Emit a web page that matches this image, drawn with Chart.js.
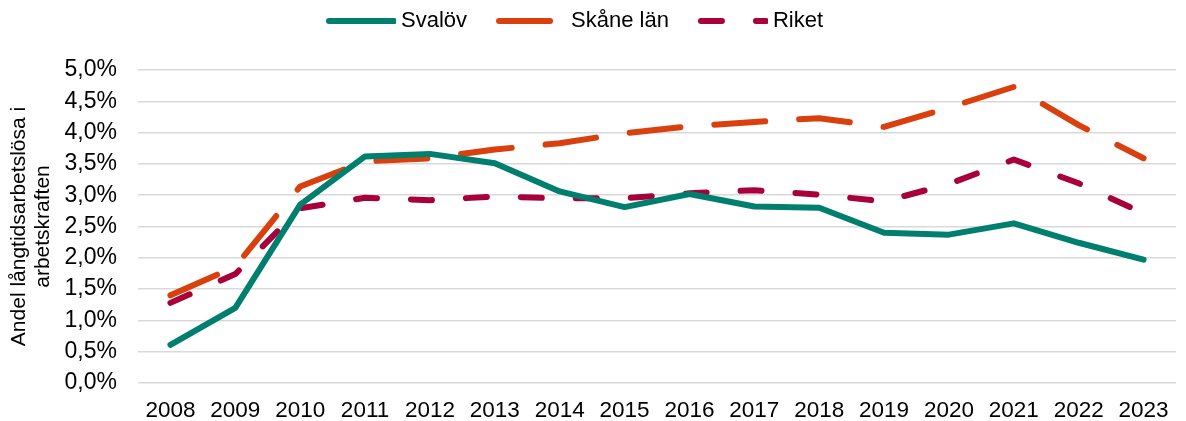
<!DOCTYPE html>
<html>
<head>
<meta charset="utf-8">
<script src="https://cdn.jsdelivr.net/npm/chart.js@4"></script>
<style>
html,body{margin:0;padding:0;background:#fff;}
#wrap{width:1186px;height:421px;position:relative;}
</style>
</head>
<body>
<div id="wrap"><canvas id="c" width="1186" height="421"></canvas></div>
<script>
const years = ["2008","2009","2010","2011","2012","2013","2014","2015","2016","2017","2018","2019","2020","2021","2022","2023"];
const svalov = [0.61, 1.20, 2.85, 3.62, 3.66, 3.51, 3.06, 2.81, 3.02, 2.82, 2.80, 2.40, 2.37, 2.55, 2.24, 1.97];
const skane  = [1.40, 1.86, 3.14, 3.54, 3.59, 3.73, 3.83, 3.99, 4.10, 4.17, 4.23, 4.09, 4.40, 4.73, 4.12, 3.59];
const riket  = [1.28, 1.74, 2.79, 2.96, 2.92, 2.98, 2.95, 2.95, 3.03, 3.08, 3.01, 2.90, 3.18, 3.57, 3.19, 2.71];
const seriesNames = ["Svalöv", "Skåne län", "Riket"];
const yTitle = ["Andel långtidsarbetslösa i", "arbetskraften"];

const FONT = "'Liberation Sans', Arial, sans-serif";
Chart.defaults.font.family = FONT;
Chart.defaults.color = "#000";

const COLORS = ['#007F6E', '#D9400E', '#A8003B'];
const DASHES = [[], [51, 34], [21, 34]];

// legend sample images (line swatch with the series' dash style)
function swatch(color, dash) {
  const c = document.createElement('canvas');
  c.width = 95; c.height = 8;
  const g = c.getContext('2d');
  g.strokeStyle = color; g.lineWidth = 6; g.lineCap = 'round';
  g.setLineDash(dash);
  g.beginPath(); g.moveTo(28, 4); g.lineTo(93, 4); g.stroke();
  return c;
}

const seriesData = [svalov, skane, riket];
const datasets = seriesData.map((d, i) => ({
  label: seriesNames[i], data: d,
  borderColor: COLORS[i], backgroundColor: COLORS[i],
  borderWidth: 6, borderDash: DASHES[i], borderCapStyle: 'round', borderJoinStyle: 'round',
  pointRadius: 0, pointHoverRadius: 0, pointStyle: swatch(COLORS[i], DASHES[i]), tension: 0
}));

new Chart(document.getElementById('c'), {
  type: 'line',
  data: { labels: years, datasets },
  options: {
    responsive: false,
    animation: false,
    events: [],
    layout: { padding: { left: -46, right: 10, top: 0, bottom: 0 } },
    plugins: {
      legend: {
        position: 'top',
        labels: {
          usePointStyle: true,
          pointStyleWidth: 83,
          boxHeight: 22,
          padding: 10,
          font: { size: 22, family: FONT },
          color: '#000'
        }
      },
      title: { display: true, text: '', weight: 500, font: { size: 10 }, padding: { top: 0, bottom: 16 } },
      tooltip: { enabled: false }
    },
    scales: {
      x: {
        offset: true,
        grid: { display: false, drawTicks: false },
        border: { display: false },
        ticks: { font: { size: 22.5, family: FONT }, color: '#000', padding: 14, maxRotation: 0, autoSkip: false },
        afterFit: (s) => { s.height = 38; }
      },
      y: {
        min: 0, max: 5,
        grid: { color: '#d9d9d9', lineWidth: 1.5, drawTicks: false },
        border: { display: false },
        ticks: { stepSize: 0.5, font: { size: 23, family: FONT }, color: '#000', padding: 21,
          callback: (v) => v.toFixed(1).replace('.', ',') + '%' },
        title: { display: true, text: yTitle, font: { size: 21, family: FONT, lineHeight: 1.15 }, color: '#000', padding: { top: 53, bottom: 0 } },
        afterFit: (s) => { s.width = 184; }
      }
    }
  }
});
</script>
</body>
</html>
